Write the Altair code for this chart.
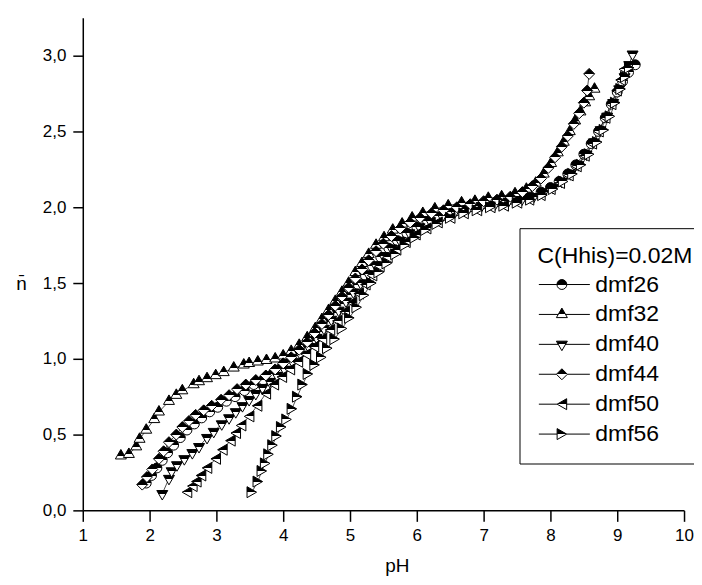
import altair as alt
import pandas as pd

series_names = ["dmf26", "dmf32", "dmf40", "dmf44", "dmf50", "dmf56"]

dmf26_ph = [1.95, 2.03, 2.11, 2.19, 2.27, 2.36, 2.46, 2.56, 2.67, 2.78, 2.90, 3.02, 3.15, 3.28, 3.42,
            3.56, 3.70, 3.84, 3.97, 4.10, 4.22, 4.34, 4.46, 4.57, 4.68, 4.79, 4.90, 5.01, 5.12, 5.23,
            5.34, 5.46, 5.58, 5.71, 5.85, 6.00, 6.16, 6.33, 6.52, 6.72, 6.92, 7.12, 7.32, 7.52, 7.70,
            7.86, 8.00, 8.13, 8.26, 8.38, 8.50, 8.61, 8.72, 8.82, 8.91, 9.00, 9.08, 9.17, 9.27]
dmf26_n = [0.18, 0.23, 0.28, 0.33, 0.38, 0.43, 0.48, 0.53, 0.57, 0.61, 0.65, 0.68, 0.72, 0.75, 0.79,
           0.83, 0.86, 0.90, 0.94, 0.98, 1.02, 1.07, 1.12, 1.18, 1.24, 1.30, 1.36, 1.42, 1.49, 1.55,
           1.61, 1.67, 1.73, 1.78, 1.83, 1.87, 1.91, 1.94, 1.97, 1.99, 2.01, 2.02, 2.04, 2.05, 2.07,
           2.10, 2.13, 2.17, 2.22, 2.28, 2.35, 2.42, 2.50, 2.59, 2.68, 2.76, 2.83, 2.89, 2.94]

dmf32_ph = [1.57, 1.69, 1.80, 1.85, 1.95, 2.07, 2.14, 2.29, 2.40, 2.49, 2.66, 2.74, 2.86, 2.99, 3.11,
            3.26, 3.41, 3.49, 3.62, 3.75, 3.88, 4.00, 4.12, 4.24, 4.36, 4.48, 4.58, 4.68, 4.78, 4.88,
            4.98, 5.08, 5.18, 5.28, 5.39, 5.51, 5.64, 5.78, 5.93, 6.09, 6.27, 6.47, 6.67, 6.87, 7.07,
            7.27, 7.47, 7.64, 7.78, 7.90, 8.01, 8.11, 8.20, 8.29, 8.37, 8.45, 8.52, 8.58, 8.66]
dmf32_n = [0.36, 0.37, 0.42, 0.47, 0.53, 0.60, 0.65, 0.72, 0.76, 0.79, 0.83, 0.85, 0.87, 0.89, 0.91,
           0.94, 0.96, 0.97, 0.98, 0.99, 1.00, 1.02, 1.05, 1.09, 1.14, 1.20, 1.26, 1.32, 1.38, 1.44,
           1.50, 1.57, 1.63, 1.69, 1.75, 1.80, 1.85, 1.89, 1.93, 1.96, 1.99, 2.01, 2.03, 2.04, 2.06,
           2.07, 2.09, 2.12, 2.16, 2.22, 2.29, 2.36, 2.43, 2.50, 2.57, 2.63, 2.69, 2.73, 2.78]

dmf40_ph = [2.19, 2.29, 2.33, 2.41, 2.52, 2.64, 2.74, 2.86, 2.96, 3.08, 3.19, 3.29, 3.39, 3.49, 3.59,
            3.69, 3.80, 3.91, 4.02, 4.14, 4.26, 4.38, 4.50, 4.61, 4.72, 4.83, 4.94, 5.05, 5.16, 5.27,
            5.38, 5.50, 5.62, 5.75, 5.89, 6.04, 6.20, 6.38, 6.57, 6.77, 6.97, 7.17, 7.37, 7.57, 7.75,
            7.90, 8.04, 8.17, 8.30, 8.42, 8.54, 8.65, 8.75, 8.85, 8.94, 9.03, 9.11, 9.18, 9.23]
dmf40_n = [0.11, 0.21, 0.26, 0.30, 0.34, 0.38, 0.42, 0.48, 0.52, 0.57, 0.61, 0.65, 0.69, 0.73, 0.77,
           0.81, 0.85, 0.89, 0.93, 0.98, 1.03, 1.08, 1.14, 1.20, 1.26, 1.32, 1.38, 1.44, 1.50, 1.56,
           1.62, 1.68, 1.73, 1.78, 1.83, 1.87, 1.91, 1.94, 1.97, 1.99, 2.01, 2.02, 2.04, 2.05, 2.07,
           2.10, 2.13, 2.17, 2.22, 2.28, 2.35, 2.43, 2.51, 2.60, 2.69, 2.78, 2.86, 2.94, 3.01]

dmf44_ph = [1.89, 1.96, 2.04, 2.14, 2.21, 2.29, 2.40, 2.49, 2.59, 2.69, 2.81, 2.93, 3.07, 3.19, 3.31,
            3.44, 3.59, 3.74, 3.88, 4.00, 4.12, 4.24, 4.36, 4.47, 4.58, 4.68, 4.78, 4.88, 4.98, 5.08,
            5.18, 5.28, 5.39, 5.50, 5.62, 5.75, 5.90, 6.05, 6.22, 6.40, 6.60, 6.80, 7.00, 7.20, 7.40,
            7.58, 7.73, 7.86, 7.97, 8.07, 8.17, 8.26, 8.35, 8.43, 8.50, 8.55, 8.58]
dmf44_n = [0.17, 0.22, 0.27, 0.34, 0.39, 0.45, 0.50, 0.55, 0.59, 0.63, 0.66, 0.69, 0.73, 0.76, 0.80,
           0.83, 0.86, 0.89, 0.93, 0.97, 1.01, 1.06, 1.11, 1.17, 1.23, 1.29, 1.35, 1.41, 1.47, 1.53,
           1.59, 1.65, 1.71, 1.76, 1.81, 1.86, 1.90, 1.93, 1.96, 1.98, 2.00, 2.02, 2.04, 2.05, 2.07,
           2.10, 2.14, 2.19, 2.26, 2.33, 2.40, 2.47, 2.55, 2.62, 2.69, 2.77, 2.88]

dmf50_ph = [2.56, 2.64, 2.70, 2.77, 2.86, 2.99, 3.09, 3.21, 3.29, 3.37, 3.49, 3.61, 3.74, 3.86, 3.98,
            4.10, 4.22, 4.34, 4.46, 4.58, 4.70, 4.81, 4.92, 5.03, 5.13, 5.23, 5.33, 5.44, 5.56, 5.69,
            5.83, 5.98, 6.14, 6.31, 6.50, 6.70, 6.90, 7.10, 7.30, 7.50, 7.68, 7.85, 8.00, 8.14, 8.27,
            8.39, 8.51, 8.62, 8.72, 8.82, 8.91, 8.99, 9.05, 9.10]
dmf50_n = [0.12, 0.16, 0.19, 0.23, 0.28, 0.34, 0.40, 0.46, 0.51, 0.56, 0.62, 0.69, 0.77, 0.83, 0.88,
           0.93, 0.98, 1.03, 1.08, 1.13, 1.19, 1.25, 1.31, 1.37, 1.43, 1.49, 1.55, 1.61, 1.67, 1.72,
           1.77, 1.82, 1.86, 1.90, 1.93, 1.96, 1.98, 2.00, 2.01, 2.03, 2.05, 2.08, 2.12, 2.16, 2.21,
           2.27, 2.34, 2.42, 2.50, 2.59, 2.68, 2.77, 2.84, 2.91]

dmf56_ph = [3.53, 3.62, 3.68, 3.73, 3.78, 3.84, 3.90, 3.97, 4.05, 4.13, 4.21, 4.29, 4.37, 4.47, 4.57,
            4.66, 4.77, 4.88, 4.99, 5.10, 5.21, 5.32, 5.43, 5.55, 5.68, 5.82, 5.97, 6.13, 6.30, 6.50,
            6.70, 6.90, 7.10, 7.30, 7.50, 7.70, 7.88, 8.04, 8.19, 8.33, 8.46, 8.58, 8.70, 8.80, 8.89,
            8.97, 9.05, 9.12, 9.18]
dmf56_n = [0.12, 0.19, 0.26, 0.31, 0.37, 0.43, 0.49, 0.55, 0.60, 0.67, 0.75, 0.83, 0.90, 0.96, 1.01,
           1.07, 1.13, 1.20, 1.27, 1.34, 1.42, 1.50, 1.57, 1.63, 1.69, 1.75, 1.80, 1.85, 1.89, 1.93,
           1.96, 1.98, 2.00, 2.01, 2.03, 2.05, 2.08, 2.12, 2.17, 2.22, 2.28, 2.35, 2.43, 2.51, 2.60,
           2.69, 2.78, 2.86, 2.92]

x_tick_values = [1, 1.5, 2, 2.5, 3, 3.5, 4, 4.5, 5, 5.5, 6, 6.5, 7, 7.5, 8, 8.5, 9, 9.5, 10]
y_tick_values = [0, 0.25, 0.5, 0.75, 1.0, 1.25, 1.5, 1.75, 2.0, 2.25, 2.5, 2.75, 3.0, 3.25]
legend_title = ["C(Hhis)=0.02M"]

series_data = [
    ("dmf26", dmf26_ph, dmf26_n),
    ("dmf32", dmf32_ph, dmf32_n),
    ("dmf40", dmf40_ph, dmf40_n),
    ("dmf44", dmf44_ph, dmf44_n),
    ("dmf50", dmf50_ph, dmf50_n),
    ("dmf56", dmf56_ph, dmf56_n),
]
rows = []
for name, phs, ns in series_data:
    assert len(phs) == len(ns), name
    for i, (p, v) in enumerate(zip(phs, ns)):
        rows.append({"series": name, "pH": p, "n": v, "order": i})
df = pd.DataFrame(rows)

# marker outlines in unit coordinates (Vega custom symbol paths).
# Triangles are centred on their centroid; a tiny extra segment makes the
# bounding box symmetric so the half fill splits at the centroid (Origin style).
CIRCLE = "M-0.9,0A0.9,0.9,0,1,1,0.9,0A0.9,0.9,0,1,1,-0.9,0Z"
UP = "M0,-1.155L1,0.577L-1,0.577ZM0,1.155L0.001,1.155"
DOWN = "M-1,-0.577L1,-0.577L0,1.155ZM0,-1.155L0.001,-1.155"
DIAMOND = "M0,-1L1,0L0,1L-1,0Z"
LEFT = "M-0.87,0L0.87,-1L0.87,1Z"
RIGHT = "M0.87,0L-0.87,-1L-0.87,1Z"
marker_paths = [CIRCLE, UP, DOWN, DIAMOND, LEFT, RIGHT]

LL = 4.2   # left line segment of the legend symbol
LR = 5.1   # right line segment of the legend symbol
legend_paths = [
    f"M-{LL},0H-0.9M0.9,0H{LR}" + CIRCLE,
    f"M-{LL},0H-0.667M0.667,0H{LR}" + UP,
    f"M-{LL},0H-0.667M0.667,0H{LR}" + DOWN,
    f"M-{LL},0H-1M1,0H{LR}" + DIAMOND,
    f"M-{LL},0H-0.87M0.87,0H{LR}" + LEFT,
    f"M-{LL},0H-0.87M0.87,0H{LR}" + RIGHT,
]

half_fill = {
    "gradient": "linear", "x1": 0, "y1": 0, "x2": 0, "y2": 1,
    "stops": [
        {"offset": 0, "color": "black"},
        {"offset": 0.5, "color": "black"},
        {"offset": 0.5, "color": "white"},
        {"offset": 1, "color": "white"},
    ],
}

FONT = "Liberation Sans"

x_enc = alt.X(
    "pH:Q",
    scale=alt.Scale(domain=[1, 10], nice=False, zero=False),
    axis=alt.Axis(
        values=x_tick_values,
        labelExpr="datum.value % 1 === 0 ? format(datum.value, 'd') : ''",
        tickSize={"condition": {"test": "datum.value % 1 === 0", "value": 11}, "value": 6},
        labelPadding=6,
        labelFlush=False,
        labelOverlap=False,
        title="pH",
        titleX=315,
        titleY=55,
        titleBaseline="middle",
        titleAlign="center",
        grid=False,
    ),
)
y_enc = alt.Y(
    "n:Q",
    scale=alt.Scale(domain=[0, 3.25], nice=False, zero=False),
    axis=alt.Axis(
        values=y_tick_values,
        labelExpr="datum.value % 0.5 === 0 ? replace(format(datum.value, '.1f'), '.', ',') : ''",
        tickSize={"condition": {"test": "datum.value % 0.5 === 0", "value": 10}, "value": 5},
        labelPadding=7,
        labelFlush=False,
        labelOverlap=False,
        title="n\u0304",
        titleAngle=0,
        titleX=-62,
        titleY=266,
        titleAlign="center",
        titleBaseline="middle",
        grid=False,
    ),
)

base = alt.Chart(df)

lines = base.mark_line(color="black", strokeWidth=0.7).encode(
    x=x_enc, y=y_enc, detail="series:N", order="order:Q"
)

MSIZE = 121

points = base.mark_point(
    filled=True, fill=half_fill, stroke="black", strokeWidth=1, size=MSIZE, opacity=1
).encode(
    x="pH:Q",
    y="n:Q",
    shape=alt.Shape("series:N", scale=alt.Scale(domain=series_names, range=marker_paths), legend=None),
)

# legend (its own title is kept for spacing but drawn transparent; the visible
# title is the text layer below, placed inside the legend frame)
legend_layer = base.transform_filter("false").mark_point(
    filled=True, fill=half_fill, stroke="black", strokeWidth=1, size=MSIZE, opacity=1
).encode(
    shape=alt.Shape(
        "series:N",
        scale=alt.Scale(domain=series_names, range=legend_paths),
        legend=alt.Legend(
            title=legend_title[0],
            orient="none",
            legendX=438,
            legendY=211,
            padding=17,
            strokeColor="black",
            cornerRadius=0,
            titleFontSize=23,
            titleFontWeight="normal",
            titleFont=FONT,
            titleColor="transparent",
            titlePadding=5,
            titleLimit=400,
            labelFontSize=23,
            labelFont=FONT,
            labelColor="black",
            labelLimit=300,
            rowPadding=6,
            symbolStrokeWidth=1,
            symbolSize=MSIZE,
            symbolOffset=14,
            labelOffset=22,
        ),
    )
)

title_text = alt.Chart(pd.DataFrame({"t": legend_title})).mark_text(
    align="left", baseline="middle", font=FONT, fontSize=23, color="black"
).encode(x=alt.value(456), y=alt.value(239), text="t:N")

chart = (
    alt.layer(lines, points, legend_layer, title_text)
    .resolve_scale(shape="independent")
    .properties(
        width=603,
        height=494,
        autosize="none",
        padding={"left": 75, "top": 9, "right": 10, "bottom": 66},
        background="white",
    )
    .configure_view(stroke=None)
    .configure_axis(
        labelFont=FONT,
        labelFontSize=17,
        labelColor="black",
        titleFont=FONT,
        titleFontSize=19,
        titleFontWeight="normal",
        titleColor="black",
        domainColor="black",
        domainWidth=1.5,
        tickColor="black",
        tickWidth=1.5,
    )
)

chart.save("out.html", embed_options={"renderer": "svg", "actions": False})
